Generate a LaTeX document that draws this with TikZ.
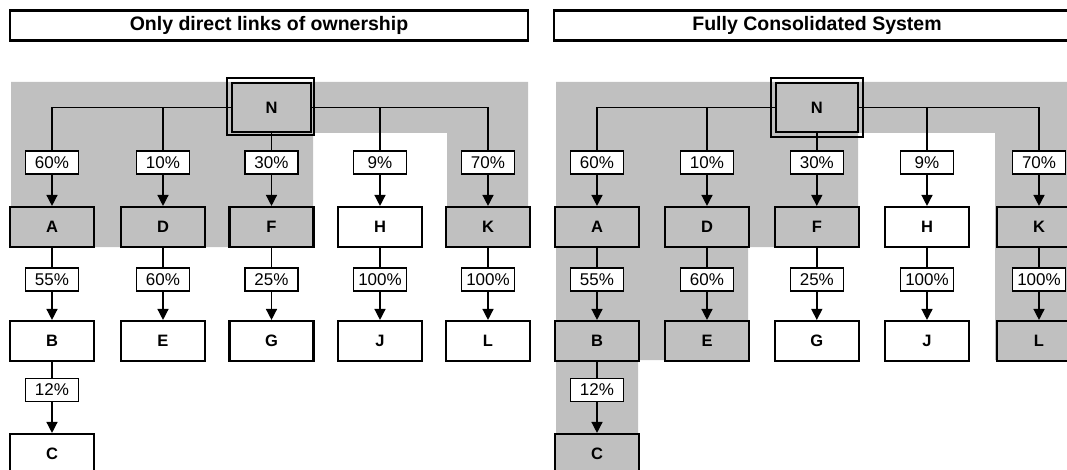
\documentclass[tikz,border=0pt]{standalone}
\usepackage{fontspec}
\setmainfont{Liberation Sans}
\usetikzlibrary{arrows.meta}
\definecolor{bg}{HTML}{C0C0C0}
\tikzset{
  ent/.style={draw, line width=2.1pt, minimum width=84pt, minimum height=40pt, inner sep=0pt,
    font=\fontsize{16.5}{17}\selectfont\bfseries, fill=white},
  own/.style={ent, fill=bg},
  pct/.style={draw, line width=1.4pt, fill=white, minimum width=53pt, minimum height=23pt,
    inner sep=0pt, font=\fontsize{17}{18}\selectfont},
  titlebox/.style={draw, line width=2.1pt, minimum height=30pt, inner sep=0pt,
    font=\fontsize{19.5}{20}\selectfont\bfseries},
  link/.style={line width=1.4pt},
  arr/.style={link, -{Triangle[width=11pt,length=11pt]}},
  frame/.style={line width=2pt},
}
\begin{document}
\begin{tikzpicture}[x=1pt,y=-1pt]
\useasboundingbox (0,0) rectangle (1067,470);
\clip (0,0) rectangle (1067,470);

% ---------- shaded areas ----------
\fill[bg] (11,82) -- (528,82) -- (528,247) -- (447,247) -- (447,133) -- (313,133)
  -- (313,247) -- (11,247) -- cycle;
\fill[bg] (556,82) -- (1080,82) -- (1080,360) -- (995,360) -- (995,133) -- (858,133)
  -- (858,247) -- (748,247) -- (748,360) -- (638,360) -- (638,480) -- (556,480) -- cycle;

% ---------- titles ----------
\node[titlebox, minimum width=518pt] (T1) at (269,25.5) {Only direct links of ownership};
\node[titlebox, minimum width=526pt] (T2) at (817,25.5) {Fully Consolidated System};

% ================= LEFT PANEL =================
\node[own, minimum width=79pt, minimum height=49pt] (N1) at (271.5,107.5) {N};
\draw[frame] ([shift={(-4,-4)}]N1.north west) rectangle ([shift={(1.5,2)}]N1.south east);

\node[pct] (la1) at (52,162.5) {60\%};
\node[pct] (ld1) at (163,162.5) {10\%};
\node[pct] (lf1) at (271.5,162.5) {30\%};
\node[pct] (lh1) at (380,162.5) {9\%};
\node[pct] (lk1) at (488,162.5) {70\%};

\node[own] (A1) at (52,227) {A};
\node[own] (D1) at (163,227) {D};
\node[own] (F1) at (271.5,227) {F};
\node[ent] (H1) at (380,227) {H};
\node[own] (K1) at (488,227) {K};

\node[pct] (lb1) at (52,279.5) {55\%};
\node[pct] (le1) at (163,279.5) {60\%};
\node[pct] (lg1) at (271.5,279.5) {25\%};
\node[pct] (lj1) at (380,279.5) {100\%};
\node[pct] (ll1) at (488,279.5) {100\%};

\node[ent] (B1) at (52,341) {B};
\node[ent] (E1) at (163,341) {E};
\node[ent] (G1) at (271.5,341) {G};
\node[ent] (J1) at (380,341) {J};
\node[ent] (L1) at (488,341) {L};

\node[pct] (lc1) at (52,390) {12\%};
\node[ent] (C1) at (52,454) {C};

\draw[link] (N1) -| (la1);
\draw[link] (N1) -| (ld1);
\draw[link] (N1) -- (lf1);
\draw[link] (N1) -| (lh1);
\draw[link] (N1) -| (lk1);
\foreach \l/\b in {la1/A1, ld1/D1, lf1/F1, lh1/H1, lk1/K1,
                   lb1/B1, le1/E1, lg1/G1, lj1/J1, ll1/L1, lc1/C1}
  \draw[arr] (\l) -- (\b);
\foreach \b/\l in {A1/lb1, D1/le1, F1/lg1, H1/lj1, K1/ll1, B1/lc1}
  \draw[link] (\b) -- (\l);

% ================= RIGHT PANEL =================
\node[own, minimum width=81.6pt, minimum height=49pt] (N2) at (816.8,107.5) {N};
\draw[frame] ([shift={(-3.5,-4)}]N2.north west) rectangle ([shift={(4,3.5)}]N2.south east);

\node[pct] (la2) at (597,162.5) {60\%};
\node[pct] (ld2) at (707,162.5) {10\%};
\node[pct] (lf2) at (816.8,162.5) {30\%};
\node[pct] (lh2) at (927,162.5) {9\%};
\node[pct] (lk2) at (1039,162.5) {70\%};

\node[own] (A2) at (597,227) {A};
\node[own] (D2) at (707,227) {D};
\node[own] (F2) at (816.8,227) {F};
\node[ent] (H2) at (927,227) {H};
\node[own] (K2) at (1039,227) {K};

\node[pct] (lb2) at (597,279.5) {55\%};
\node[pct] (le2) at (707,279.5) {60\%};
\node[pct] (lg2) at (816.8,279.5) {25\%};
\node[pct] (lj2) at (927,279.5) {100\%};
\node[pct] (ll2) at (1039,279.5) {100\%};

\node[own] (B2) at (597,341) {B};
\node[own] (E2) at (707,341) {E};
\node[ent] (G2) at (816.8,341) {G};
\node[ent] (J2) at (927,341) {J};
\node[own] (L2) at (1039,341) {L};

\node[pct] (lc2) at (597,390) {12\%};
\node[own] (C2) at (597,454) {C};

\draw[link] (N2) -| (la2);
\draw[link] (N2) -| (ld2);
\draw[link] (N2) -- (lf2);
\draw[link] (N2) -| (lh2);
\draw[link] (N2) -| (lk2);
\foreach \l/\b in {la2/A2, ld2/D2, lf2/F2, lh2/H2, lk2/K2,
                   lb2/B2, le2/E2, lg2/G2, lj2/J2, ll2/L2, lc2/C2}
  \draw[arr] (\l) -- (\b);
\foreach \b/\l in {A2/lb2, D2/le2, F2/lg2, H2/lj2, K2/ll2, B2/lc2}
  \draw[link] (\b) -- (\l);
\end{tikzpicture}
\end{document}
